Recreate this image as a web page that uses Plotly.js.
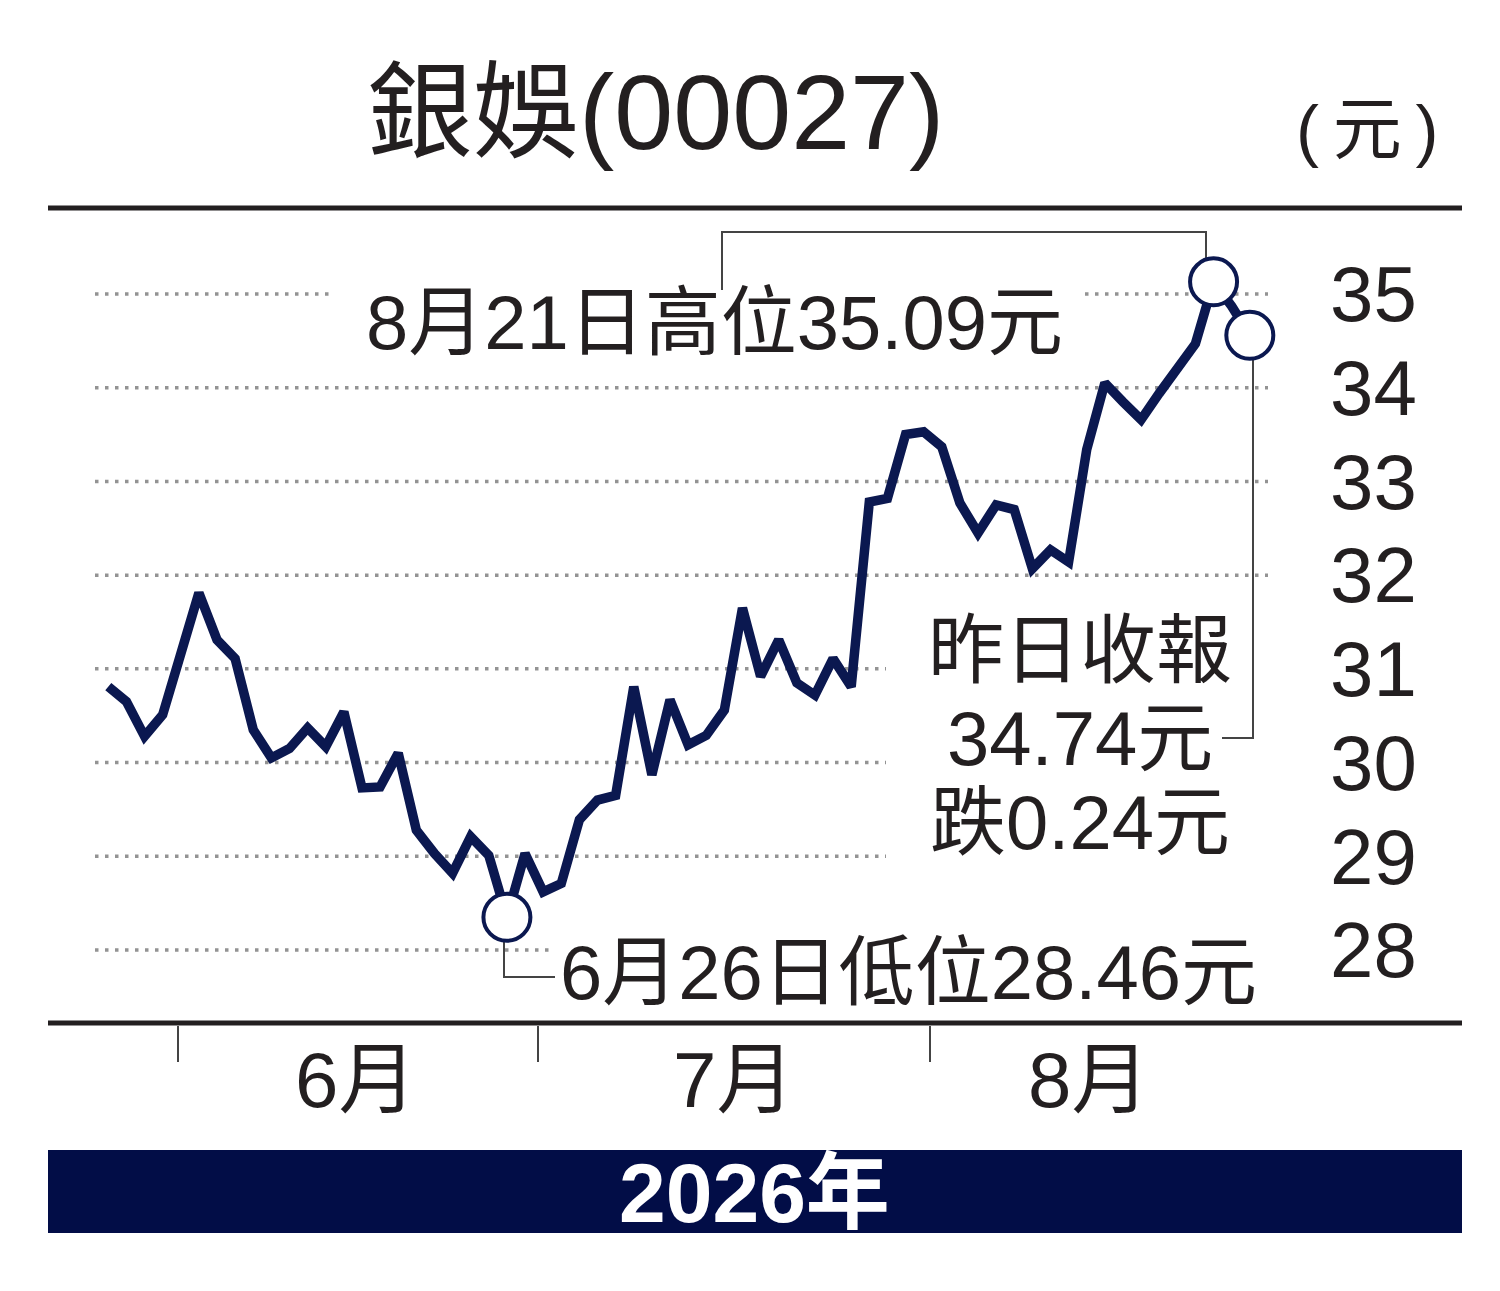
<!DOCTYPE html>
<html>
<head>
<meta charset="utf-8">
<script src="https://cdn.plot.ly/plotly-3.0.1.min.js"></script>
<style>
  html, body { margin: 0; padding: 0; background: #fff; }
  #chart { width: 1500px; height: 1291px; }
</style>
</head>
<body>
<div id="chart"></div>
<script>
'use strict';

// trading days, 26 May - 25 Aug 2026
var dates = [
  '2026-05-26', '2026-05-27', '2026-05-28', '2026-05-29',
  '2026-06-01', '2026-06-02', '2026-06-03', '2026-06-04', '2026-06-05',
  '2026-06-08', '2026-06-09', '2026-06-10', '2026-06-11', '2026-06-12',
  '2026-06-15', '2026-06-16', '2026-06-17', '2026-06-18',
  '2026-06-22', '2026-06-23', '2026-06-24', '2026-06-25', '2026-06-26',
  '2026-06-29', '2026-06-30',
  '2026-07-02', '2026-07-03',
  '2026-07-06', '2026-07-07', '2026-07-08', '2026-07-09', '2026-07-10',
  '2026-07-13', '2026-07-14', '2026-07-15', '2026-07-16', '2026-07-17',
  '2026-07-20', '2026-07-21', '2026-07-22', '2026-07-23', '2026-07-24',
  '2026-07-27', '2026-07-28', '2026-07-29', '2026-07-30', '2026-07-31',
  '2026-08-03', '2026-08-04', '2026-08-05', '2026-08-06', '2026-08-07',
  '2026-08-10', '2026-08-11', '2026-08-12', '2026-08-13', '2026-08-14',
  '2026-08-17', '2026-08-18', '2026-08-19', '2026-08-20', '2026-08-21',
  '2026-08-24', '2026-08-25'
];

var closes = [
  30.81, 30.65, 30.28, 30.51,
  31.16, 31.81, 31.31, 31.11, 30.35,
  30.05, 30.15, 30.37, 30.17, 30.54,
  29.73, 29.74, 30.10, 29.28,
  29.03, 28.82, 29.21, 29.01, 28.35,
  29.03, 28.62,
  28.71, 29.39,
  29.60, 29.65, 30.81, 29.87, 30.67,
  30.19, 30.29, 30.56, 31.65, 30.92,
  31.31, 30.85, 30.72, 31.11, 30.81,
  32.78, 32.82, 33.50, 33.53, 33.37,
  32.77, 32.45, 32.75, 32.70, 32.07,
  32.27, 32.14, 33.34, 34.05, 33.85,
  33.66, 33.94, 34.21, 34.47, 35.13,
  34.87, 34.56
];

// marked points: low, high, last close
var markIdx = [22, 61, 63];

var yTicks = [28, 29, 30, 31, 32, 33, 34, 35];
var monthLabels = ['6月', '7月', '8月'];

var titleText = '銀娛(00027)';
var unitText = '(\u2009元\u2009)';
var highText = '8月21日高位35.09元';
var lowText = '6月26日低位28.46元';
var lastLines = ['昨日收報', '34.74元', '跌0.24元'];
var yearText = '2026年';

// ---- layout helpers (pixel -> paper) ----
var L = 48, R = 1325, T = 208, B = 1023;
function px(x) { return (x - L) / (R - L); }
function py(y) { return (B - y) / (B - T); }

var NAVY = '#0b1850';
var INK = '#231f20';
var FONT = "'Liberation Sans Narrow', 'Liberation Sans', 'Noto Sans CJK TC', sans-serif";

var traces = [
  {
    x: dates, y: closes, type: 'scatter', mode: 'lines',
    line: { color: NAVY, width: 9.5 }
  },
  {
    x: markIdx.map(function (i) { return dates[i]; }),
    y: markIdx.map(function (i) { return closes[i]; }),
    type: 'scatter', mode: 'markers',
    marker: { size: 47, color: '#fff', line: { color: NAVY, width: 4 } }
  }
];

var shapes = [];

// dotted guide lines, broken where the notes sit
var gridSpans = {
  35: [[95, 335], [1085, 1268]],
  34: [[95, 1268]],
  33: [[95, 1268]],
  32: [[95, 1268]],
  31: [[95, 886]],
  30: [[95, 886]],
  29: [[95, 886]],
  28: [[95, 550]]
};
yTicks.forEach(function (v) {
  gridSpans[v].forEach(function (s) {
    shapes.push({
      type: 'line', xref: 'paper', yref: 'y', layer: 'below',
      x0: px(s[0]), x1: px(s[1]), y0: v, y1: v,
      line: { color: '#939393', width: 3.5, dash: '3.5px,6.5px' }
    });
  });
});

// rules top and bottom
shapes.push({ type: 'line', xref: 'paper', yref: 'paper', x0: px(48), x1: px(1462), y0: py(208), y1: py(208), line: { color: INK, width: 5 } });
shapes.push({ type: 'line', xref: 'paper', yref: 'paper', x0: px(48), x1: px(1462), y0: py(1023), y1: py(1023), line: { color: INK, width: 5 } });

// month boundary ticks
[178, 538, 930].forEach(function (x) {
  shapes.push({ type: 'line', xref: 'paper', yref: 'paper', x0: px(x), x1: px(x), y0: py(1026), y1: py(1062), line: { color: '#444', width: 2 } });
});

// year band
shapes.push({ type: 'rect', xref: 'paper', yref: 'paper', x0: px(48), x1: px(1462), y0: py(1150), y1: py(1233), fillcolor: '#020d47', line: { width: 0 } });

// callout connectors
function path(pts) {
  return pts.map(function (p, i) { return (i ? 'L' : 'M') + px(p[0]) + ',' + py(p[1]); }).join(' ');
}
[
  [[722, 290], [722, 232], [1206, 232], [1206, 260]],
  [[1253, 357], [1253, 738], [1222, 738]],
  [[504, 940], [504, 977], [555, 977]]
].forEach(function (pts) {
  shapes.push({ type: 'path', xref: 'paper', yref: 'paper', layer: 'below', path: path(pts), line: { color: '#444', width: 2 } });
});

function note(text, x, y, size, anchor, extra) {
  var a = {
    text: text, xref: 'paper', yref: 'paper', x: px(x), y: py(y),
    xanchor: anchor || 'center', yanchor: 'middle', showarrow: false,
    font: { family: FONT, size: size, color: INK }
  };
  return Object.assign(a, extra || {});
}

var annotations = [
  note(titleText, 655, 112, 106),
  note(unitText, 1367, 130, 69),
  note(highText, 364, 322, 76, 'left'),
  note(lastLines[0], 1080, 650, 76),
  note(lastLines[1], 1080, 738, 76),
  note(lastLines[2], 1080, 822, 76),
  note(lowText, 558, 972, 76, 'left'),
  note(monthLabels[0], 355, 1080, 78),
  note(monthLabels[1], 733, 1080, 78),
  note(monthLabels[2], 1088, 1080, 78),
  note('<b>' + yearText + '</b>', 754, 1193, 84, 'center',
       { font: { family: "'Liberation Sans', 'Noto Sans CJK TC', sans-serif", size: 84, color: '#fff' } })
];

var layout = {
  width: 1500,
  height: 1291,
  margin: { l: L, r: 1500 - R, t: T, b: 1291 - B, pad: 0 },
  paper_bgcolor: '#fff',
  plot_bgcolor: 'rgba(0,0,0,0)',
  showlegend: false,
  hovermode: false,
  font: { family: FONT, color: INK },
  xaxis: {
    type: 'category',
    range: [-3.328, 67.15],
    showticklabels: false, ticks: '', showgrid: false, zeroline: false, showline: false
  },
  yaxis: {
    side: 'right',
    range: [27.221, 35.918],
    tickvals: yTicks,
    ticks: '',
    ticklabelstandoff: 4,
    tickfont: { family: FONT, size: 78, color: INK },
    showgrid: false, zeroline: false, showline: false
  },
  shapes: shapes,
  annotations: annotations
};

Plotly.newPlot('chart', traces, layout, { displayModeBar: false, staticPlot: true });
</script>
</body>
</html>
